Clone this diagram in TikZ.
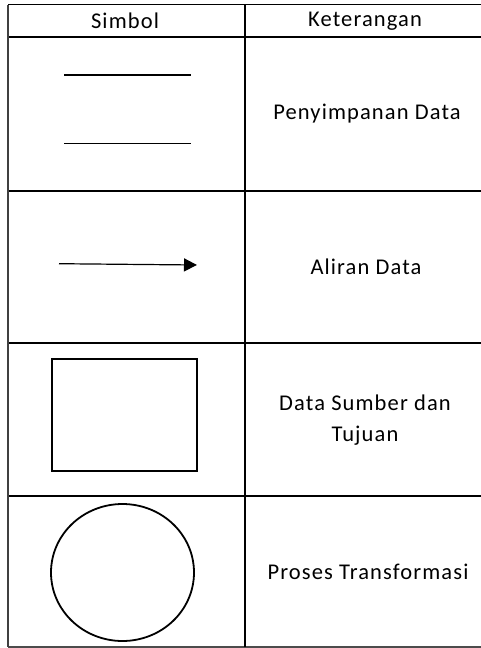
\documentclass[tikz,border=0pt]{standalone}
\usepackage{fontspec}
\setmainfont{Carlito}[LetterSpace=5]
\usetikzlibrary{arrows.meta}

\begin{document}
\begin{tikzpicture}[x=1pt,y=-1pt,
    every node/.style={font=\fontsize{22.5}{31}\selectfont, align=center},
    rule/.style={line width=1.8pt, black}]
    \useasboundingbox (0,0) rectangle (481,648);
    % tabel
    \draw [rule] (8,4.5) -- (481,4.5);
    \foreach \y in {37,190.7,343.3,496}
      \draw [rule] (8,\y) -- (481,\y);
    \draw [line width=1.3pt, black!70] (8,647) -- (481,647);
    \draw [line width=1.5pt, black!75] (8,4.5) -- (8,647);
    \draw [rule] (245,4.5) -- (245,647);
    \node (simbol) at (125,21) {Simbol};
    \node (ket) at (365,21) {Keterangan};
    % penyimpanan data
    \draw [line width=2.2pt] (64,75) -- (191,75);
    \draw [line width=1.2pt] (64,143.7) -- (191,143.7);
    \node (simpan) at (367,113.5) {Penyimpanan Data};
    % aliran data
    \coordinate (a1) at (59,263.7);
    \coordinate (a2) at (197,265);
    \draw [line width=1.2pt, -{Triangle[length=13pt,width=13pt]}] (a1) -- (a2);
    \node (alir) at (366,267) {Aliran Data};
    % sumber dan tujuan
    \draw [line width=2pt] (52,359) rectangle (197,471);
    \node (sumber) at (365,420) {Data Sumber dan\\Tujuan};
    % proses
    \draw [line width=1.8pt] (122.5,572.5) ellipse (71.5 and 68.5);
    \node (proses) at (368,572) {Proses Transformasi};
\end{tikzpicture}
\end{document}
